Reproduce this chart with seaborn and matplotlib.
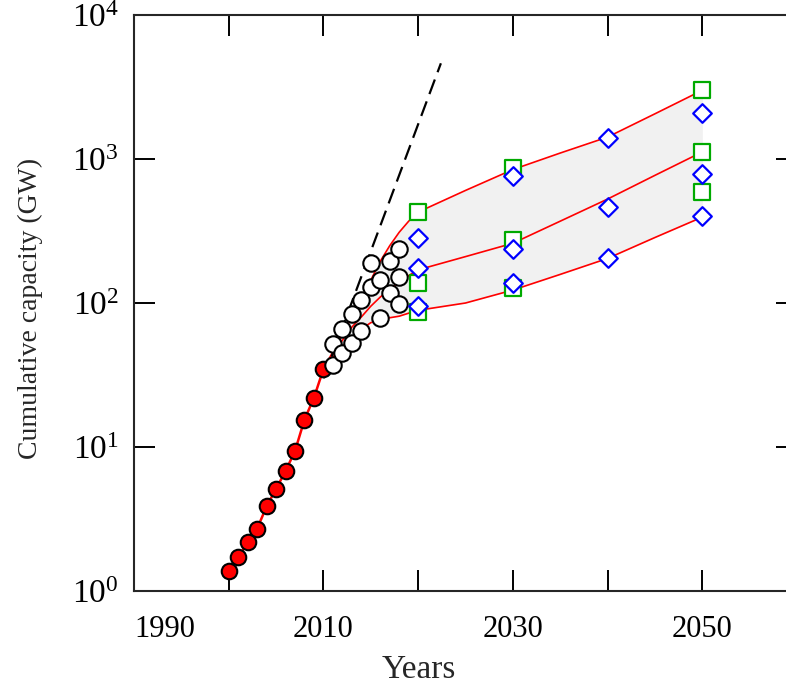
import numpy as np
import matplotlib
matplotlib.use("Agg")
import matplotlib.pyplot as plt
from matplotlib.ticker import FixedLocator, NullLocator
import seaborn as sns

# historical installed capacity (filled red dots)
hist_years = [2000, 2001, 2002, 2003, 2004, 2005, 2006, 2007, 2008, 2009, 2010]
hist_values = [1.38, 1.71, 2.2, 2.71, 3.87, 5.13, 6.8, 9.4, 15.5, 22.0, 34.8]

# later reported values (open circles)
obs_years = [2011, 2011, 2012, 2012, 2013, 2013, 2014, 2014, 2015, 2015,
             2016, 2016, 2017, 2017, 2018, 2018, 2018]
obs_values = [52, 37, 66, 45, 84.5, 53, 105, 64, 191, 130,
              145, 79, 197, 117, 236, 152, 99]

# scenario curves (red lines, grey band between upper and lower)
curve_years = [2010, 2011, 2012, 2013, 2014, 2015, 2016, 2017, 2018, 2019,
               2020, 2025, 2030, 2035, 2040, 2045, 2050]
curve_upper = [34.8, 46, 60, 80, 105, 144, 195, 250, 310, 370,
               428, 605, 845, 1100, 1420, 2060, 3000]
curve_middle = [34.8, 44, 55, 68, 80, 95, 110, 124, 140, 155,
                170, 210, 260, 370, 527, 770, 1120]
curve_lower = [34.8, 42, 50, 58, 66, 73, 77, 79, 81, 85,
               89, 100, 123, 158, 204, 285, 395]

# exponential trend extrapolation (dashed)
trend_years = [2010, 2022.4]
trend_values = [30, 4620]

# projections (green squares, blue diamonds)
sq_years = [2020, 2020, 2020, 2030, 2030, 2030, 2050, 2050, 2050]
sq_values = [428, 137, 87, 861, 274, 127, 3015, 1124, 587]
dia_years = [2020, 2020, 2020, 2030, 2030, 2030, 2040, 2040, 2040, 2050, 2050, 2050]
dia_values = [281, 174, 95, 762, 236, 138, 1393, 467, 204, 2076, 787, 404]

x_ticks = [1990, 2000, 2010, 2020, 2030, 2040, 2050, 2060]
x_tick_labels = ["1990", "", "2010", "", "2030", "", "2050", ""]
y_ticks = [1, 10, 100, 1000, 10000]

sns.set_style("ticks")
plt.rcParams["font.family"] = ["Liberation Serif", "DejaVu Serif"]
plt.rcParams["mathtext.fontset"] = "custom"
plt.rcParams["mathtext.rm"] = "Liberation Serif"

fig = plt.figure(figsize=(7.86, 6.85), dpi=100)
ax = fig.add_axes([0.1705, 0.1372, 0.8435, 0.8409])

ax.fill_between(curve_years, curve_upper, curve_lower, color="#f1f1f1", lw=0, zorder=1)
for vals in (curve_upper, curve_middle, curve_lower):
    sns.lineplot(x=curve_years, y=vals, color="red", lw=1.2, ax=ax, zorder=2)
sns.lineplot(x=hist_years, y=hist_values, color="red", lw=1.8, ax=ax, zorder=2)
ax.plot(trend_years, trend_values, color="black", lw=1.6, dashes=(7, 3.5), zorder=3)

sns.scatterplot(x=hist_years, y=hist_values, marker="o", s=125, color="red",
                edgecolor="black", linewidth=1.5, ax=ax, zorder=4)
sns.scatterplot(x=obs_years, y=obs_values, marker="o", s=140, color="white",
                edgecolor="black", linewidth=1.5, ax=ax, zorder=4)
sns.scatterplot(x=sq_years, y=sq_values, marker="s", s=120, color="white",
                edgecolor="#00aa00", linewidth=1.6, ax=ax, zorder=5)
sns.scatterplot(x=dia_years, y=dia_values, marker="D", s=90, color="white",
                edgecolor="#0000ff", linewidth=1.6, ax=ax, zorder=6)

ax.set_yscale("log")
ax.set_xlim(1990, 2060)
ax.set_ylim(1, 10000)
ax.xaxis.set_major_locator(FixedLocator(x_ticks))
ax.set_xticklabels(x_tick_labels)
ax.xaxis.get_majorticklabels()[0].set_horizontalalignment("left")
ax.yaxis.set_major_locator(FixedLocator(y_ticks))
ax.yaxis.set_minor_locator(NullLocator())
ax.xaxis.set_minor_locator(NullLocator())

for side in ("left", "right", "top", "bottom"):
    ax.spines[side].set_visible(True)
    ax.spines[side].set_linewidth(1.5)
ax.tick_params(axis="both", which="major", direction="in", length=15, width=1.4,
               top=True, right=True, colors="black")
ax.tick_params(axis="x", labelsize=22, pad=17)
ax.tick_params(axis="y", labelsize=24, pad=11)

ax.set_xlabel("Years", fontsize=24)
ax.xaxis.set_label_coords(0.43, -0.11)
ax.set_ylabel("Cumulative capacity (GW)", fontsize=20)
ax.yaxis.set_label_coords(-0.137, 0.49)

fig.savefig("out.png", dpi=100)
